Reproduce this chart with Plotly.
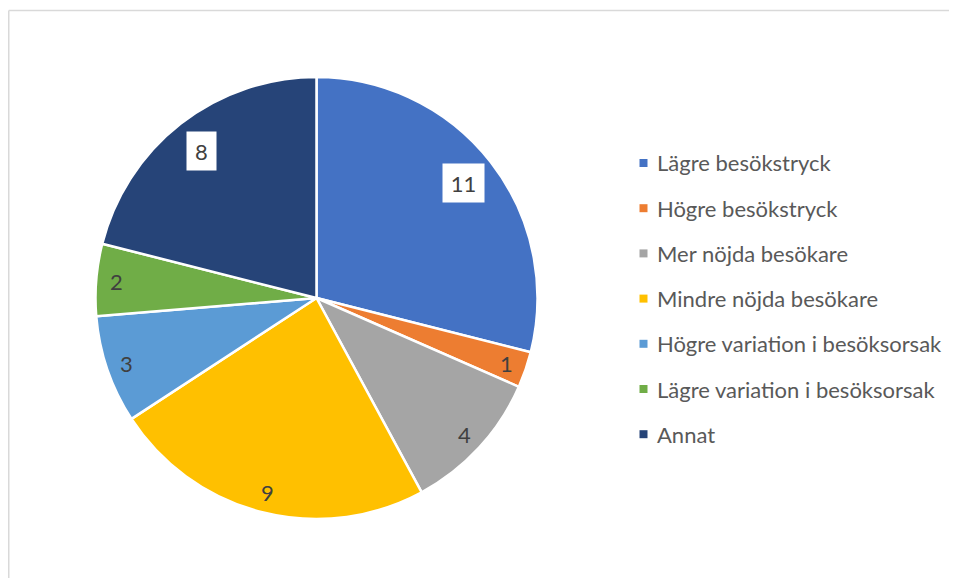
import math
import plotly.graph_objects as go

W, H = 957, 578
OX, OY = 8, 8  # page body margin offset
FW, FH = W - OX, H - OY

labels = [
    "Lägre besökstryck",
    "Högre besökstryck",
    "Mer nöjda besökare",
    "Mindre nöjda besökare",
    "Högre variation i besöksorsak",
    "Lägre variation i besöksorsak",
    "Annat",
]
values = [11, 1, 4, 9, 3, 2, 8]
colors = ["#4472C4", "#ED7D31", "#A5A5A5", "#FFC000", "#5B9BD5", "#70AD47", "#264478"]
boxed = ["Lägre besökstryck", "Annat"]

FONT = "Lato"
cx, cy, r = 316.5, 298, 221


def px(x):
    return (x - OX) / FW


def py(y):
    return 1 - (y - OY) / FH


fig = go.Figure(
    go.Pie(
        labels=labels,
        values=values,
        sort=False,
        direction="clockwise",
        rotation=0,
        marker=dict(colors=colors, line=dict(color="white", width=2.5)),
        textinfo="none",
        hoverinfo="label+value",
        showlegend=False,
        domain=dict(x=[px(cx - r), px(cx + r)], y=[py(cy + r), py(cy - r)]),
    )
)

# data labels, placed at the slice mid-angle
total = sum(values)
start = 0
for lab, v in zip(labels, values):
    mid = (start + v / 2) / total * 2 * math.pi
    start += v
    f = 0.845 if lab in boxed else 0.91
    x = cx + f * r * math.sin(mid)
    y = cy - f * r * math.cos(mid)
    extra = {}
    if lab in boxed:
        extra = dict(bgcolor="white", borderpad=0, width=12 * len(str(v)) + 17, height=38)
    fig.add_annotation(
        x=px(x), y=py(y), xref="paper", yref="paper",
        xanchor="center", yanchor="middle",
        text=str(v), showarrow=False,
        font=dict(family=FONT, size=22, color="#404040"),
        **extra,
    )

# legend drawn by hand to match spacing
for i, (lab, c) in enumerate(zip(labels, colors)):
    yc = 163 + i * 45.2
    fig.add_shape(
        type="rect", xref="paper", yref="paper",
        x0=px(639.5), x1=px(647.5), y0=py(yc + 4), y1=py(yc - 4),
        fillcolor=c, line_width=0,
    )
    fig.add_annotation(
        x=px(655), y=py(yc), xref="paper", yref="paper",
        text=lab, showarrow=False, xanchor="left", yanchor="middle",
        font=dict(family=FONT, size=22, color="#595959"),
    )

# chart area border (cropped on right and bottom)
border = dict(color="#D9D9D9", width=1.5)
fig.add_shape(type="line", xref="paper", yref="paper",
              x0=px(8.75), x1=px(8.75), y0=py(10.5), y1=py(600), line=border)
fig.add_shape(type="line", xref="paper", yref="paper",
              x0=px(8.75), x1=px(990), y0=py(10.5), y1=py(10.5), line=border)

fig.update_layout(
    width=FW,
    height=FH,
    margin=dict(l=0, r=0, t=0, b=0),
    paper_bgcolor="white",
    plot_bgcolor="white",
    font=dict(family=FONT),
)

fig.write_html("out.html")
